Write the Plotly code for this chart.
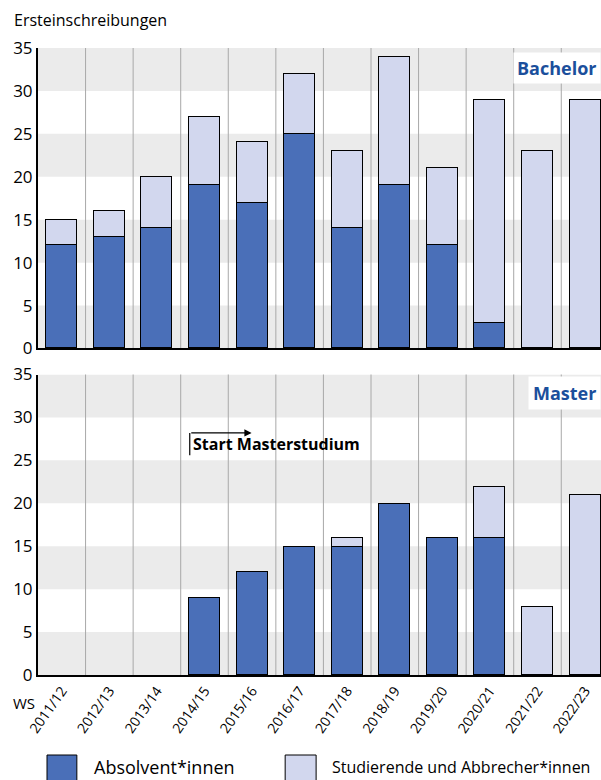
import plotly.graph_objects as go
from plotly.subplots import make_subplots

semester = ["2011/12", "2012/13", "2013/14", "2014/15", "2015/16", "2016/17",
            "2017/18", "2018/19", "2019/20", "2020/21", "2021/22", "2022/23"]
bach_absolv = [12, 13, 14, 19, 17, 25, 14, 19, 12, 3, 0, 0]
bach_stud = [3, 3, 6, 8, 7, 7, 9, 15, 9, 26, 23, 29]
mast_absolv = [0, 0, 0, 9, 12, 15, 15, 20, 16, 16, 0, 0]
mast_stud = [0, 0, 0, 0, 0, 0, 1, 0, 0, 6, 8, 21]
y_ticks = [0, 5, 10, 15, 20, 25, 30, 35]

DARK = "#4a6fb8"
LIGHT = "#d2d7ee"
BAND = "#ebebeb"
VLINE = "#a8a8a8"
TXTBLUE = "#1b4f9c"
FONT = "Open Sans"


def nz(vals):
    return [v if v else None for v in vals]


fig = make_subplots(rows=2, cols=1, shared_xaxes=False, vertical_spacing=0.0415)

x = list(range(len(semester)))
for row, (a, s) in enumerate([(bach_absolv, bach_stud), (mast_absolv, mast_stud)], start=1):
    fig.add_trace(go.Bar(x=x, y=nz(a), marker=dict(color=DARK, line=dict(color="black", width=1)),
                         width=0.65, name="Absolvent*innen", showlegend=False), row=row, col=1)
    fig.add_trace(go.Bar(x=x, y=nz(s), marker=dict(color=LIGHT, line=dict(color="black", width=1)),
                         width=0.65, name="Studierende und Abbrecher*innen", showlegend=False), row=row, col=1)

shapes = []
for xr, yr in [("x", "y"), ("x2", "y2")]:
    for lo in range(0, 35, 10):
        shapes.append(dict(type="rect", xref=xr + " domain", yref=yr, x0=0, x1=1, y0=lo, y1=lo + 5,
                           fillcolor=BAND, line=dict(width=0), layer="below"))
    for k in range(1, len(semester)):
        shapes.append(dict(type="line", xref=xr, yref=yr + " domain", x0=k - 0.5, x1=k - 0.5, y0=0, y1=1,
                           line=dict(color=VLINE, width=1), layer="below"))

fig.update_layout(barmode="stack", bargap=0)
for r in (1, 2):
    fig.update_xaxes(range=[-0.5, 11.335], showgrid=False, zeroline=False, showline=True,
                     linecolor="black", linewidth=2, row=r, col=1,
                     tickmode="array", tickvals=x, ticks="")
    fig.update_yaxes(range=[0, 35], tickvals=y_ticks, showgrid=False, zeroline=False,
                     showline=True, linecolor="black", linewidth=2, ticks="", row=r, col=1,
                     tickfont=dict(size=17, color="black", family=FONT))
fig.update_xaxes(showticklabels=False, row=1, col=1)
fig.update_xaxes(ticktext=semester, tickangle=-55, tickfont=dict(size=14, color="black", family=FONT),
                 row=2, col=1)

annotations = [
    dict(text="Ersteinschreibungen", xref="paper", yref="paper", x=-0.046, y=1.045, xanchor="left",
         yanchor="middle", showarrow=False, font=dict(size=16, color="black", family=FONT)),
    dict(text="WS", xref="paper", yref="paper", x=-0.048, y=-0.045, xanchor="left", yanchor="middle",
         showarrow=False, font=dict(size=15, color="black", family=FONT)),
    dict(text="<b>Bachelor</b>", xref="x domain", yref="y domain", x=1.0, y=0.934, xanchor="right",
         yanchor="middle", showarrow=False, bgcolor="white", borderpad=3,
         font=dict(size=18, color=TXTBLUE, family=FONT)),
    dict(text="<b>Master</b>", xref="x2 domain", yref="y2 domain", x=1.0, y=0.94, xanchor="right",
         yanchor="middle", showarrow=False, bgcolor="white", borderpad=4,
         font=dict(size=18, color=TXTBLUE, family=FONT)),
    dict(text="<b>Start Masterstudium</b>", xref="x2", yref="y2", x=2.71, y=26.9, xanchor="left",
         yanchor="middle", showarrow=False, font=dict(size=16, color="black", family=FONT)),
    dict(x=3.99, y=28.2, ax=2.69, ay=28.2, xref="x2", yref="y2", axref="x2", ayref="y2",
         showarrow=True, arrowhead=2, arrowsize=1.2, arrowwidth=1.2, arrowcolor="black", text=""),
    dict(text="Absolvent*innen", xref="paper", yref="paper", x=0.096, y=-0.147, xanchor="left",
         yanchor="middle", showarrow=False, font=dict(size=18, color="black", family=FONT)),
    dict(text="Studierende und Abbrecher*innen", xref="paper", yref="paper", x=0.519, y=-0.147,
         xanchor="left", yanchor="middle", showarrow=False, font=dict(size=16, color="black", family=FONT)),
]
shapes.append(dict(type="line", xref="x2", yref="y2", x0=2.69, x1=2.69, y0=25.6, y1=28.2,
                   line=dict(color="black", width=1.2)))
shapes.append(dict(type="rect", xref="paper", yref="paper", x0=0.016, x1=0.069, y0=-0.17, y1=-0.1276,
                   fillcolor=DARK, line=dict(color="black", width=1)))
shapes.append(dict(type="rect", xref="paper", yref="paper", x0=0.439, x1=0.494, y0=-0.17, y1=-0.1276,
                   fillcolor=LIGHT, line=dict(color="black", width=1)))

fig.update_layout(width=601, height=780, margin=dict(l=38, r=0, t=48, b=105),
                  plot_bgcolor="white", paper_bgcolor="white", shapes=shapes,
                  annotations=annotations, showlegend=False, font=dict(family=FONT))

fig.write_html("out.html", config={"displayModeBar": False},
               post_script="document.body.style.margin='0';document.body.style.overflow='hidden';")
